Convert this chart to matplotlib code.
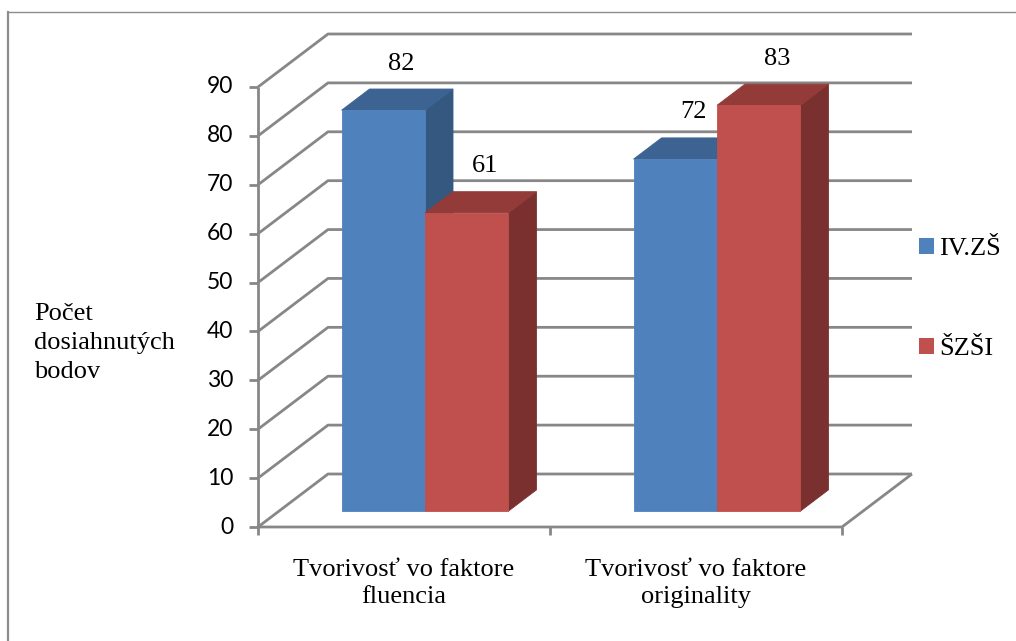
import matplotlib
matplotlib.use("Agg")
import matplotlib.pyplot as plt
from matplotlib.patches import Polygon, Patch
from matplotlib.lines import Line2D

# ---- data -------------------------------------------------------------
categories = ["Tvorivosť vo faktore\nfluencia", "Tvorivosť vo faktore\noriginality"]
series_names = ["IV.ZŠ", "ŠZŠI"]
iv_zs = [82, 72]
szsi = [61, 83]
y_ticks = [0, 10, 20, 30, 40, 50, 60, 70, 80, 90]
y_title = "Počet\ndosiahnutých\nbodov"

# ---- styling ------------------------------------------------------------
face_colors = [
    {"front": "#4F81BD", "top": "#3C6391", "side": "#34587F"},
    {"front": "#C0504D", "top": "#923B39", "side": "#7A302E"},
]
grid_color = "#878787"
serif = "Liberation Serif"
sans = "Lato"

W, H = 1016, 641
fig = plt.figure(figsize=(W / 100, H / 100), dpi=100)
ax = fig.add_axes([0, 0, 1, 1])
ax.axis("off")

# plot area geometry (pixels): front floor edge and value range
x_left_px, x_right_px = 258, 842
y_zero_px, y_max_px = 527, 87
n_cat = len(categories)
y_max = y_ticks[-1]
cat_px = (x_right_px - x_left_px) / n_cat
unit_px = (y_zero_px - y_max_px) / y_max
ax.set_xlim(-x_left_px / cat_px, (W - x_left_px) / cat_px)
ax.set_ylim(-(H - y_zero_px) / unit_px, y_zero_px / unit_px)

# oblique depth offset of the 3D box (full depth)
depth_dx = 70 / cat_px
depth_dy = 53 / unit_px


def proj(x, v, d):
    return (x + d * depth_dx, v + d * depth_dy)


# ---- walls, floor and gridlines --------------------------------------
gl = dict(color=grid_color, lw=2.0, solid_capstyle="butt", zorder=1)
for v in y_ticks:
    pts = [proj(0, v, 0), proj(0, v, 1), proj(n_cat, v, 1)]
    ax.plot([p[0] for p in pts], [p[1] for p in pts], **gl)
floor = [proj(0, 0, 0), proj(n_cat, 0, 0), proj(n_cat, 0, 1)]
ax.plot([p[0] for p in floor], [p[1] for p in floor], **gl)
ax.plot([0, 0], [0, y_max], **gl)

tick_x = 9 / cat_px
tick_y = 8 / unit_px
for v in y_ticks:
    ax.plot([-tick_x, 0], [v, v], **gl)
    ax.annotate(str(v), xy=(0, v), xytext=(-25, 0), textcoords="offset pixels",
                ha="right", va="center", fontsize=16.5, family=sans, color="#000000")
for i in range(n_cat + 1):
    ax.plot([i, i], [0, -tick_y], **gl)

for i, name in enumerate(categories):
    ax.annotate(name, xy=(i + 0.5, 0), xytext=(0, -32), textcoords="offset pixels",
                ha="center", va="top", fontsize=19, family=serif,
                linespacing=1.32, multialignment="center")

# ---- 3D bars -------------------------------------------------------------
gap = 1.5
bar_w = 1 / (len(series_names) + gap)
d0, d1 = 0.30, 0.70
series_values = [iv_zs, szsi]

for i in range(n_cat):
    for s, values in enumerate(series_values):
        v = values[i]
        xl = i + gap / 2 * bar_w + s * bar_w
        xr = xl + bar_w
        col = face_colors[s]
        z = 3 + i * 10 + s * 3
        side = [proj(xr, 0, d0), proj(xr, 0, d1), proj(xr, v, d1), proj(xr, v, d0)]
        top = [proj(xl, v, d0), proj(xr, v, d0), proj(xr, v, d1), proj(xl, v, d1)]
        front = [proj(xl, 0, d0), proj(xr, 0, d0), proj(xr, v, d0), proj(xl, v, d0)]
        ax.add_patch(Polygon(side, closed=True, facecolor=col["side"],
                             edgecolor=col["side"], lw=0.6, zorder=z))
        ax.add_patch(Polygon(top, closed=True, facecolor=col["top"],
                             edgecolor=col["top"], lw=0.6, zorder=z + 1))
        ax.add_patch(Polygon(front, closed=True, facecolor=col["front"],
                             edgecolor=col["front"], lw=0.6, zorder=z + 2))
        ax.annotate(str(v), xy=proj((xl + xr) / 2, v, (d0 + d1) / 2),
                    xytext=(4, 36), textcoords="offset pixels",
                    ha="center", va="center", fontsize=19, family=serif, zorder=50)

# ---- axis title ---------------------------------------------------------
fig.text(34 / W, 1 - 343 / H, y_title, ha="left", va="center", fontsize=19,
         family=serif, linespacing=1.42)

# ---- legend -------------------------------------------------------------
handles = [Patch(facecolor=c["front"], edgecolor="none") for c in face_colors]
ax.legend(handles, series_names, loc="center left",
          bbox_to_anchor=(919 / W, 1 - 299 / H), bbox_transform=fig.transFigure,
          frameon=False, borderpad=0, borderaxespad=0,
          handlelength=0.55, handleheight=0.55,
          handletextpad=0.2, labelspacing=2.95,
          prop={"family": serif, "size": 19})

# ---- chart frame ----------------------------------------------------------
fig.add_artist(Line2D([7.5 / W, 7.5 / W], [0, 1 - 12 / H], transform=fig.transFigure,
                      color="#8c8c8c", lw=1.6))
fig.add_artist(Line2D([7.5 / W, 1], [1 - 12 / H, 1 - 12 / H], transform=fig.transFigure,
                      color="#8c8c8c", lw=1.0))

fig.savefig("out.png", dpi=100)
